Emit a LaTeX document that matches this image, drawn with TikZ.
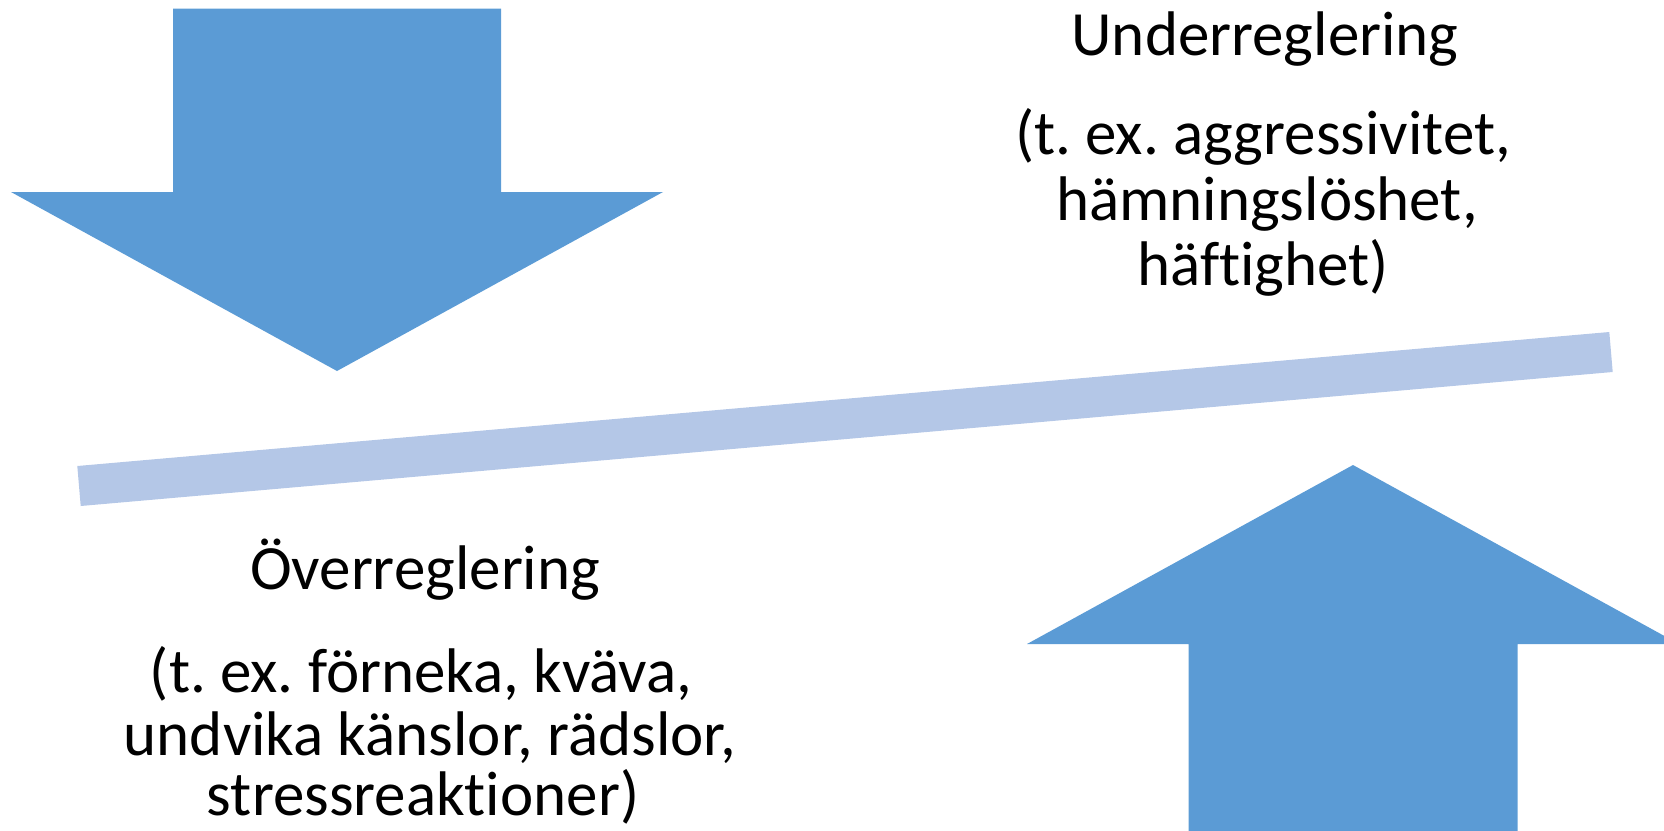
\documentclass[tikz,border=0pt]{standalone}
\usepackage{fontspec}
\setmainfont{Carlito}[RawFeature={-liga;-clig;-dlig;-calt}]
\definecolor{arrowblue}{HTML}{5B9BD5}
\definecolor{beamblue}{HTML}{B4C7E7}
\frenchspacing
\begin{document}
\begin{tikzpicture}[x=1pt,y=-1pt,
  label/.style={anchor=base,inner sep=0pt,font=\fontsize{63}{66}\selectfont}]
\useasboundingbox (0,0) rectangle (1664,830);
\clip (0,0) rectangle (1664,830);
% downward arrow, top left
\fill[arrowblue] (173,8.5) -- (501,8.5) -- (501,192) -- (663,192)
  -- (337,371) -- (11,192) -- (173,192) -- cycle;
% upward arrow, bottom right
\fill[arrowblue] (1353,465) -- (1679,644) -- (1517.5,644) -- (1517.5,840)
  -- (1188.5,840) -- (1188.5,644) -- (1027,644) -- cycle;
% tilted beam
\fill[beamblue] (77.3,466) -- (1609.3,332) -- (1612.7,372) -- (80.7,506) -- cycle;
% under-regulation text
\node[label] (u1) at (1265,55) {Underreglering};
\node[label] (u2) at (1263,154) {(t. ex. aggressivitet,};
\node[label] (u3) at (1267,220) {hämningslöshet,};
\node[label] (u4) at (1263,285) {häftighet)};
% over-regulation text
\node[label] (o1) at (425,589) {Överreglering};
\node[label] (o2) at (421,692) {(t. ex. förneka, kväva,};
\node[label] (o3) at (430,755) {undvika känslor, rädslor,};
\node[label] (o4) at (423,815) {stressreaktioner)};
\end{tikzpicture}
\end{document}
